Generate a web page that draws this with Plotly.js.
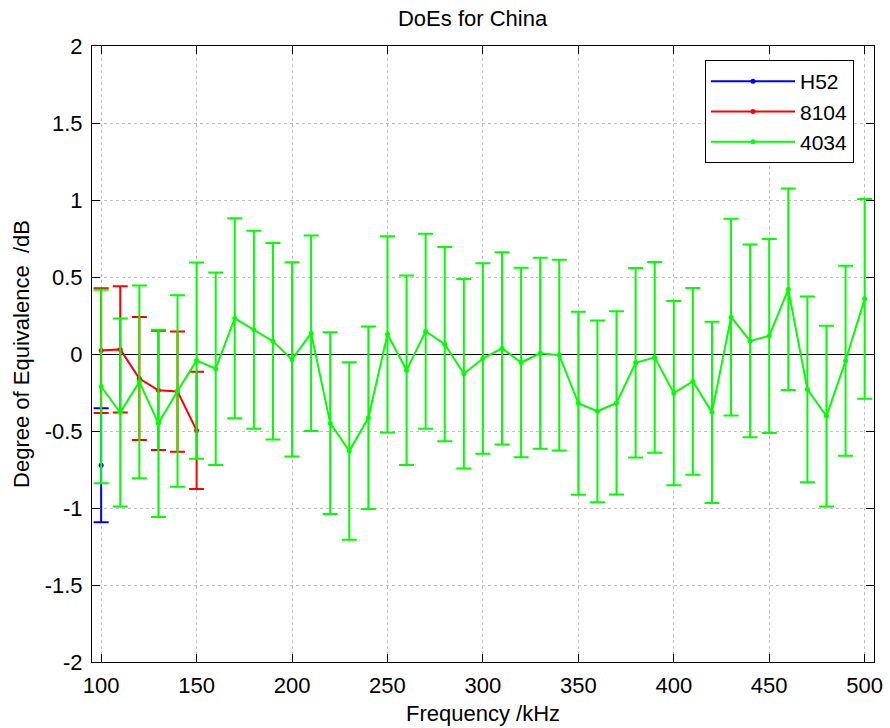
<!DOCTYPE html>
<html>
<head>
<meta charset="utf-8">
<script src="https://cdn.plot.ly/plotly-3.0.1.min.js"></script>
<style>html,body{margin:0;padding:0;background:#fff;}#chart{width:890px;height:728px;}</style>
</head>
<body>
<div id="chart"></div>
<script>
// ---- data ----
const freqH52 = [100];
const valH52 = [-0.723];
const uncH52 = [0.37];

const freq8104 = [100, 110, 120, 130, 140, 150];
const val8104 = [0.022, 0.030, -0.159, -0.236, -0.244, -0.496];
const unc8104 = [0.405, 0.410, 0.400, 0.387, 0.390, 0.380];

const freq4034 = [100, 110, 120, 130, 140, 150, 160, 170, 180, 190, 200, 210, 220, 230, 240, 250, 260, 270, 280, 290, 300,
                  310, 320, 330, 340, 350, 360, 370, 380, 390, 400, 410, 420, 430, 440, 450, 460, 470, 480, 490, 500];
const val4034 = [-0.211, -0.380, -0.181, -0.450, -0.240, -0.043, -0.095, 0.232, 0.157, 0.082, -0.035, 0.135, -0.449, -0.630, -0.414, 0.128, -0.105, 0.148, 0.064, -0.128, -0.029,
                 0.037, -0.055, 0.005, -0.007, -0.320, -0.372, -0.318, -0.057, -0.022, -0.254, -0.178, -0.379, 0.239, 0.085, 0.117, 0.420, -0.229, -0.403, -0.044, 0.358];
const unc4034 = [0.628, 0.611, 0.626, 0.608, 0.622, 0.637, 0.625, 0.650, 0.643, 0.638, 0.630, 0.635, 0.590, 0.576, 0.593, 0.637, 0.615, 0.633, 0.631, 0.615, 0.619,
                 0.624, 0.615, 0.620, 0.619, 0.594, 0.590, 0.595, 0.615, 0.620, 0.598, 0.606, 0.589, 0.639, 0.626, 0.630, 0.654, 0.603, 0.587, 0.617, 0.648];

const seriesNames = ['H52', '8104', '4034'];
const xTickVals = [100, 150, 200, 250, 300, 350, 400, 450, 500];
const xTickText = ['100', '150', '200', '250', '300', '350', '400', '450', '500'];
const yTickVals = [-2, -1.5, -1, -0.5, 0, 0.5, 1, 1.5, 2];
const yTickText = ['-2', '-1.5', '-1', '-0.5', '0', '0.5', '1', '1.5', '2'];

// ---- chart ----
const FONT = 'Liberation Sans, Arial, Helvetica, sans-serif';
function series(x, y, u, name, color) {
  return {
    x: x, y: y, name: name, type: 'scatter', mode: 'lines+markers',
    line: {color: color, width: 2},
    marker: {color: color, size: 5},
    error_y: {type: 'data', array: u, visible: true, color: color, thickness: 2, width: 7.5}
  };
}
const traces = [
  series(freqH52, valH52, uncH52, seriesNames[0], '#0000ff'),
  series(freq8104, val8104, unc8104, seriesNames[1], '#ff0000'),
  series(freq4034, val4034, unc4034, seriesNames[2], '#00ff00')
];

const axisCommon = {
  showline: true, linecolor: '#000', linewidth: 1, mirror: 'ticks',
  ticks: 'inside', ticklen: 8, tickcolor: '#000', tickwidth: 1,
  showgrid: true, gridcolor: '#c0c0c0', griddash: 'dot', gridwidth: 1,
  tickfont: {family: FONT, size: 22, color: '#000'},
  tickmode: 'array'
};

const layout = {
  width: 890, height: 728,
  paper_bgcolor: '#fff', plot_bgcolor: '#fff',
  margin: {l: 92, r: 16, t: 46, b: 66, pad: 0},
  font: {family: FONT, size: 22, color: '#000'},
  title: {text: 'DoEs for China', font: {family: FONT, size: 22, color: '#000'},
          x: 0.531, xref: 'container', xanchor: 'center', y: 1 - 18 / 728, yref: 'container', yanchor: 'middle'},
  xaxis: Object.assign({}, axisCommon, {
    range: [95.2, 504.9], tickvals: xTickVals, ticktext: xTickText,
    zeroline: false, ticklabelstandoff: 4,
    title: {text: 'Frequency /kHz', font: {family: FONT, size: 22, color: '#000'}, standoff: 8}
  }),
  yaxis: Object.assign({}, axisCommon, {
    range: [-2, 2], tickvals: yTickVals, ticktext: yTickText,
    zeroline: true, zerolinecolor: '#000', zerolinewidth: 1, ticklabelstandoff: 4,
    title: {text: 'Degree of Equivalence&nbsp; /dB', font: {family: FONT, size: 22, color: '#000'}, standoff: 8}
  }),
  legend: {
    x: (854 - 92) / 782, xanchor: 'right', y: (662 - 60) / 616, yanchor: 'top',
    bgcolor: '#fff', bordercolor: '#000', borderwidth: 1,
    font: {family: FONT, size: 21, color: '#000'},
    itemwidth: 84, tracegroupgap: 0
  },
  showlegend: true
};

Plotly.newPlot('chart', traces, layout, {displayModeBar: false, staticPlot: true});
</script>
</body>
</html>
